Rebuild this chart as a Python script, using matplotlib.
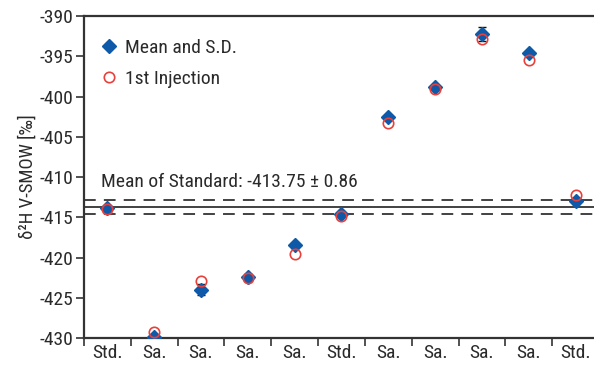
import matplotlib
matplotlib.use('Agg')
import matplotlib.pyplot as plt
import numpy as np

plt.rcParams['font.family'] = ['Roboto Condensed', 'Liberation Sans Narrow', 'Liberation Sans', 'DejaVu Sans']
plt.rcParams['axes.unicode_minus'] = False

categories = ['Std.', 'Sa.', 'Sa.', 'Sa.', 'Sa.', 'Std.', 'Sa.', 'Sa.', 'Sa.', 'Sa.', 'Std.']
mean_values = [-413.9, -429.9, -424.0, -422.4, -418.5, -414.6, -402.6, -398.8, -392.2, -394.6, -413.0]
sd_values = [0.25, 0.2, 0.7, 0.3, 0.3, 0.2, 0.25, 0.2, 0.85, 0.2, 0.35]
first_injection = [-414.0, -429.2, -422.9, -422.5, -419.6, -414.8, -403.3, -399.1, -392.8, -395.5, -412.2]
std_mean = -413.75
std_sd = 0.86

fig = plt.figure(figsize=(5.94, 3.68), dpi=100)
ax = fig.add_axes([0.1414, 0.0815, 0.867, 0.875])

x = np.arange(len(categories))
line_col = '#333333'
txt_col = '#2a2a2a'

ax.axhline(std_mean, color=line_col, lw=1.3, zorder=1)
ax.axhline(std_mean + std_sd, color=line_col, lw=1.3, ls=(0, (6.5, 4.5)), zorder=1)
ax.axhline(std_mean - std_sd, color=line_col, lw=1.3, ls=(0, (6.5, 4.5)), zorder=1)

# error bars, then the markers on top
ax.errorbar(x, mean_values, yerr=sd_values, fmt='none', ecolor='#111111',
            elinewidth=1, capsize=3, capthick=1, zorder=2)
ax.plot(x, mean_values, 'D', color='#0f5aa8', markersize=6.8,
        label='Mean and S.D.', zorder=3)
ax.plot(x, first_injection, 'o', mfc='none', mec='#e8403a', mew=1.2,
        markersize=7.5, label='1st Injection', zorder=4)

ax.text(-0.14, std_mean + 3.1, 'Mean of Standard: -413.75 \u00b1 0.86',
        fontsize=14, color=txt_col, va='center', ha='left')

ax.set_xlim(-0.5, 10.5)
ax.set_ylim(-430, -390)
ax.set_yticks(np.arange(-430, -389, 5))
ax.set_xticks(x)
ax.set_xticklabels(categories)
ax.set_xticks(np.arange(-0.5, 10.6, 1), minor=True)
ax.tick_params(axis='x', which='major', length=0, labelsize=14, pad=4, colors=txt_col)
ax.tick_params(axis='x', which='minor', length=6, width=1.2, color=line_col)
ax.tick_params(axis='y', which='major', length=6, width=1.2, color=line_col,
               labelsize=14, pad=1.5, labelcolor=txt_col)

for side in ['left', 'bottom', 'top']:
    ax.spines[side].set_linewidth(1.6)
    ax.spines[side].set_color(line_col)
ax.spines['right'].set_visible(False)

ax.set_ylabel('\u03b4\u00b2H V-SMOW [\u2030]', fontsize=13.5, color=txt_col, labelpad=2)

leg = ax.legend(loc='upper left', bbox_to_anchor=(0.0, 0.97), frameon=False,
                fontsize=14, handletextpad=0.2, handlelength=1.2,
                labelspacing=0.65, borderaxespad=0.3)
for t in leg.get_texts():
    t.set_color(txt_col)

fig.savefig('out.png', dpi=100)
